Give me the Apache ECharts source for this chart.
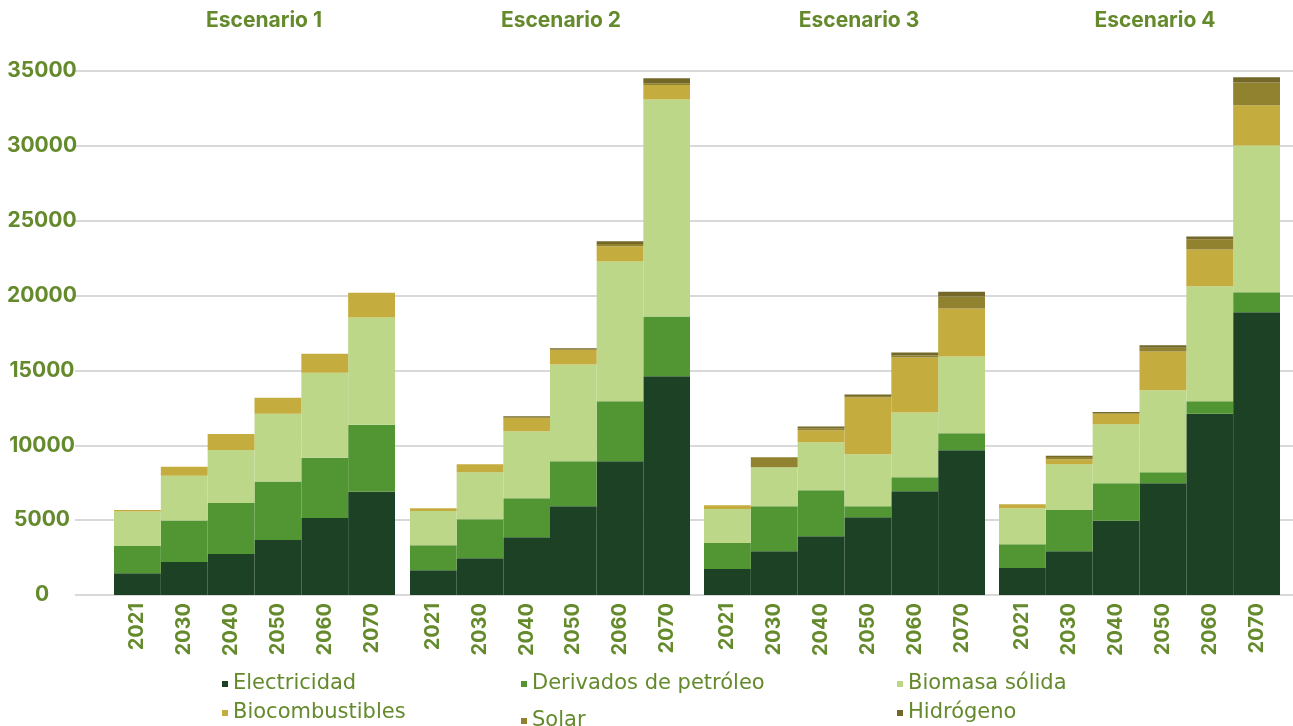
<!DOCTYPE html>
<html>
<head>
<meta charset="utf-8">
<script src="https://cdn.jsdelivr.net/npm/echarts@6/dist/echarts.min.js"></script>
<style>
html,body{margin:0;padding:0;background:#fff;}
#chart{width:1293px;height:726px;}
</style>
</head>
<body>
<div id="chart"></div>
<script>
// ---- Data ----
var years = ['2021', '2030', '2040', '2050', '2060', '2070'];
var scenarios = ['Escenario 1', 'Escenario 2', 'Escenario 3', 'Escenario 4'];
var sources = ['Electricidad', 'Derivados de petróleo', 'Biomasa sólida', 'Biocombustibles', 'Solar', 'Hidrógeno'];
var yTicks = [0, 5000, 10000, 15000, 20000, 25000, 30000, 35000];

// Escenario 1
var esc1Electricidad     = [1460, 2210, 2740, 3680, 5150, 6890];
var esc1Derivados        = [1810, 2760, 3410, 3900, 4010, 4480];
var esc1Biomasa          = [2300, 2990, 3540, 4520, 5680, 7170];
var esc1Biocombustibles  = [110, 600, 1070, 1070, 1270, 1650];
var esc1Solar            = [0, 0, 0, 0, 0, 0];
var esc1Hidrogeno        = [0, 0, 0, 0, 0, 0];

// Escenario 2
var esc2Electricidad     = [1660, 2460, 3860, 5920, 8940, 14610];
var esc2Derivados        = [1660, 2600, 2600, 3020, 4000, 4000];
var esc2Biomasa          = [2290, 3140, 4470, 6460, 9340, 14490];
var esc2Biocombustibles  = [190, 540, 890, 960, 1010, 960];
var esc2Solar            = [0, 0, 60, 60, 160, 120];
var esc2Hidrogeno        = [0, 0, 60, 60, 170, 330];

// Escenario 3
var esc3Electricidad     = [1730, 2930, 3930, 5200, 6930, 9670];
var esc3Derivados        = [1740, 3000, 3070, 730, 930, 1130];
var esc3Biomasa          = [2270, 2600, 3200, 3470, 4330, 5130];
var esc3Biocombustibles  = [260, 0, 800, 3800, 3670, 3200];
var esc3Solar            = [0, 670, 130, 90, 130, 800];
var esc3Hidrogeno        = [0, 0, 130, 110, 200, 330];

// Escenario 4
var esc4Electricidad     = [1800, 2930, 4960, 7470, 12100, 18890];
var esc4Derivados        = [1590, 2740, 2510, 730, 840, 1330];
var esc4Biomasa          = [2410, 3070, 3930, 5480, 7680, 9810];
var esc4Biocombustibles  = [260, 330, 700, 2580, 2460, 2680];
var esc4Solar            = [0, 140, 60, 250, 680, 1530];
var esc4Hidrogeno        = [0, 90, 60, 170, 190, 340];

var scenarioData = [
  [esc1Electricidad, esc1Derivados, esc1Biomasa, esc1Biocombustibles, esc1Solar, esc1Hidrogeno],
  [esc2Electricidad, esc2Derivados, esc2Biomasa, esc2Biocombustibles, esc2Solar, esc2Hidrogeno],
  [esc3Electricidad, esc3Derivados, esc3Biomasa, esc3Biocombustibles, esc3Solar, esc3Hidrogeno],
  [esc4Electricidad, esc4Derivados, esc4Biomasa, esc4Biocombustibles, esc4Solar, esc4Hidrogeno]
];

// ---- Styling ----
var colors = ['#1c4124', '#529533', '#bdd789', '#c4ad3e', '#918230', '#736828'];
var textColor = '#648a2c';
var boldFont = 'Inter';
var gridTop = 71, gridBottom = 131;
var groupLeft = [114, 410, 704, 999];
var groupWidth = [281, 280, 281, 281];
var titleX = [264, 561, 859, 1155];
var legendPos = [[222, 672], [521, 672], [897, 672], [222, 701], [521, 709], [897, 701]];

var grids = [{left: 75, right: 0, top: gridTop, bottom: gridBottom}];
var xAxes = [{type: 'value', gridIndex: 0, show: false, min: 0, max: 1}];
var yAxes = [{
  type: 'value', gridIndex: 0, min: yTicks[0], max: yTicks[yTicks.length - 1],
  interval: yTicks[1] - yTicks[0],
  axisLine: {show: false}, axisTick: {show: false},
  axisLabel: {
    color: textColor, fontFamily: boldFont, fontWeight: 'bold', fontSize: 21, align: 'center', margin: 33,
    formatter: function (v) { return String(v); }
  },
  splitLine: {lineStyle: {color: '#d9d9d9', width: 2}}
}];
var series = [];
var graphics = [];

scenarios.forEach(function (sc, s) {
  grids.push({left: groupLeft[s], width: groupWidth[s], top: gridTop, bottom: gridBottom});
  xAxes.push({
    type: 'category', gridIndex: s + 1, data: years,
    axisLine: {show: false}, axisTick: {show: false},
    axisLabel: {rotate: 90, color: textColor, fontFamily: boldFont, fontWeight: 'bold', fontSize: 20, margin: 8, interval: 0}
  });
  yAxes.push({
    type: 'value', gridIndex: s + 1, min: yTicks[0], max: yTicks[yTicks.length - 1],
    show: false, splitLine: {show: false}
  });
  sources.forEach(function (name, k) {
    series.push({
      type: 'bar', name: name, stack: 'esc' + s,
      xAxisIndex: s + 1, yAxisIndex: s + 1,
      barCategoryGap: '0%',
      itemStyle: {color: colors[k]},
      data: scenarioData[s][k]
    });
  });
  graphics.push({
    type: 'text', x: titleX[s], y: 21,
    style: {text: sc, fill: textColor, font: 'bold 21px Inter', textAlign: 'center', textVerticalAlign: 'middle'}
  });
});

var legends = sources.map(function (name, k) {
  return {
    data: [name], left: legendPos[k][0], top: legendPos[k][1],
    icon: 'rect', itemWidth: 6, itemHeight: 6, padding: 0,
    textStyle: {color: textColor, fontFamily: 'DejaVu Sans', fontSize: 21, lineHeight: 24}
  };
});

var chart = echarts.init(document.getElementById('chart'), null, {renderer: 'canvas'});
chart.setOption({
  animation: false,
  color: colors,
  grid: grids,
  xAxis: xAxes,
  yAxis: yAxes,
  legend: legends,
  graphic: graphics,
  series: series
});
</script>
</body>
</html>
